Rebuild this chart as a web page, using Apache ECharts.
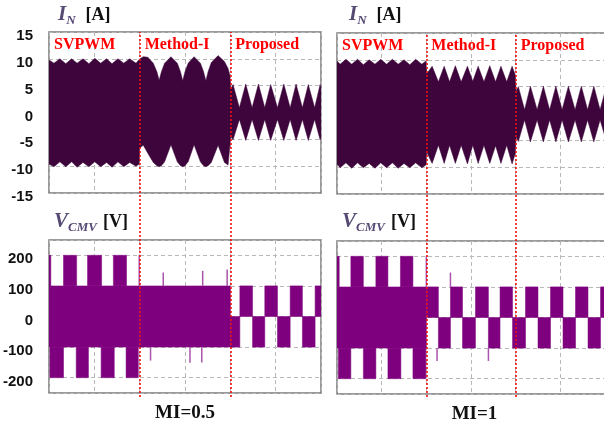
<!DOCTYPE html>
<html>
<head>
<meta charset="utf-8">
<script src="https://cdn.jsdelivr.net/npm/echarts@6/dist/echarts.min.js"></script>
<style>
html, body { margin: 0; padding: 0; background: #fff; }
#main { width: 604px; height: 426px; }
</style>
</head>
<body>
<div id="main"></div>
<script>
// time axis in grid divisions (0..6), regions split at 2 and 4
var regions = ['SVPWM', 'Method-I', 'Proposed'];
var edges = [0, 2, 4, 6];

// I_N envelope, MI=0.5 (SVPWM | Method-I | Proposed)
var iaT = [0.00, 0.11, 0.24, 0.37, 0.50, 0.62, 0.75, 0.88, 1.01, 1.14, 1.27, 1.39, 1.52, 1.65, 1.78, 1.92, 1.99,
           2.00, 2.08, 2.18, 2.30, 2.38, 2.43, 2.48, 2.55, 2.69, 2.83, 2.90, 2.95, 3.00, 3.07, 3.20, 3.34, 3.41, 3.46, 3.51, 3.58, 3.73, 3.87, 3.95, 3.99,
           4.01, 4.06, 4.20, 4.34, 4.48, 4.62, 4.76, 4.89, 5.04, 5.18, 5.32, 5.45, 5.59, 5.72, 5.86, 5.98, 6.00];
var iaHi = [9.8, 9.2, 10.0, 9.1, 10.0, 9.2, 10.0, 9.1, 10.1, 9.2, 10.0, 9.1, 10.0, 9.2, 10.0, 9.2, 9.9,
            10.0, 10.4, 10.3, 9.2, 7.6, 6.0, 7.6, 9.2, 10.4, 9.2, 7.6, 5.9, 7.6, 9.2, 10.4, 9.2, 7.6, 5.9, 7.6, 9.3, 10.6, 9.5, 8.2, 7.0,
            4.4, 5.2, 0.9, 5.3, 0.9, 5.3, 0.9, 5.2, 0.9, 5.3, 0.9, 5.3, 0.9, 5.2, 0.9, 5.2, 4.6];
var iaLo = [-9.6, -10.1, -9.2, -10.1, -9.2, -10.2, -9.3, -10.1, -9.2, -10.1, -9.3, -10.2, -9.2, -10.1, -9.3, -10.0, -9.6,
            -6.6, -6.1, -7.6, -9.3, -9.9, -10.1, -9.9, -9.2, -6.0, -9.2, -9.9, -10.1, -9.9, -9.2, -6.0, -9.2, -9.9, -10.1, -9.9, -9.3, -6.1, -9.3, -9.8, -9.6,
            -4.5, -5.1, -1.3, -5.2, -1.3, -5.2, -1.3, -5.2, -1.3, -5.2, -1.3, -5.2, -1.3, -5.2, -1.3, -5.1, -4.7];

// I_N envelope, MI=1
var ibT = [0.00, 0.07, 0.20, 0.33, 0.46, 0.59, 0.72, 0.85, 0.98, 1.11, 1.24, 1.37, 1.50, 1.63, 1.76, 1.90, 1.99,
           2.01, 2.13, 2.27, 2.40, 2.52, 2.65, 2.78, 2.92, 3.04, 3.16, 3.29, 3.42, 3.55, 3.67, 3.80, 3.92, 3.99,
           4.01, 4.06, 4.20, 4.33, 4.48, 4.62, 4.76, 4.90, 5.04, 5.18, 5.33, 5.47, 5.61, 5.75, 5.89, 6.00];
var ibHi = [9.8, 9.2, 10.1, 9.2, 10.1, 9.1, 10.0, 9.2, 10.1, 9.2, 10.1, 9.2, 10.0, 9.1, 10.1, 9.2, 9.8,
            7.4, 8.8, 5.9, 8.8, 5.9, 8.9, 5.9, 8.8, 6.0, 8.8, 5.9, 8.9, 5.9, 8.8, 5.9, 8.8, 7.2,
            4.2, 5.0, 0.7, 5.1, 0.7, 5.1, 0.7, 5.1, 0.7, 5.1, 0.7, 5.1, 0.7, 5.1, 0.7, 4.1];
var ibLo = [-9.4, -10.1, -9.2, -10.2, -9.2, -10.1, -9.3, -10.2, -9.2, -10.1, -9.2, -10.2, -9.3, -10.1, -9.2, -10.1, -9.6,
            -7.2, -9.3, -5.9, -9.3, -5.9, -9.3, -5.9, -9.4, -5.9, -9.3, -5.9, -9.3, -6.0, -9.3, -5.9, -9.4, -7.5,
            -4.4, -5.2, -1.2, -5.3, -1.2, -5.3, -1.2, -5.3, -1.2, -5.3, -1.2, -5.3, -1.2, -5.3, -1.2, -4.3];

// V_CMV blocks [t0, t1, v0, v1], MI=0.5
var vaBlocks = [
  [0, 2.0, -100, 100],
  [0, 0.04, 100, 200], [0.32, 0.61, 100, 200], [0.85, 1.16, 100, 200], [1.42, 1.71, 100, 200],
  [0.02, 0.32, -200, -100], [0.60, 0.87, -200, -100], [1.15, 1.44, -200, -100], [1.70, 1.97, -200, -100],
  [2.0, 4.0, -100, 100],
  [4.0, 4.21, -100, 0], [4.21, 4.49, 0, 100], [4.49, 4.76, -100, 0], [4.76, 5.04, 0, 100],
  [5.04, 5.32, -100, 0], [5.32, 5.59, 0, 100], [5.59, 5.87, -100, 0], [5.87, 6.0, 0, 100]
];
// thin spikes [t, v0, v1]
var vaSpikes = [[1.99, 100, 200], [2.52, 100, 144], [3.39, 100, 149], [3.93, 100, 154],
                [2.24, -100, -144], [3.11, -100, -151], [3.37, -100, -150]];

// V_CMV blocks, MI=1
var vbBlocks = [
  [0, 2.0, -100, 100],
  [0, 0.05, 100, 200], [0.31, 0.59, 100, 200], [0.87, 1.14, 100, 200], [1.42, 1.70, 100, 200],
  [0.03, 0.31, -200, -100], [0.59, 0.87, -200, -100], [1.14, 1.43, -200, -100], [1.70, 1.99, -200, -100],
  [2.0, 2.27, 0, 100], [2.27, 2.54, -100, 0], [2.54, 2.81, 0, 100], [2.81, 3.10, -100, 0],
  [3.10, 3.39, 0, 100], [3.39, 3.65, -100, 0], [3.65, 3.93, 0, 100], [3.93, 4.22, -100, 0],
  [4.22, 4.50, 0, 100], [4.50, 4.78, -100, 0], [4.78, 5.06, 0, 100], [5.06, 5.34, -100, 0],
  [5.34, 5.62, 0, 100], [5.62, 5.90, -100, 0], [5.90, 6.0, 0, 100]
];
var vbSpikes = [[2.0, 100, 200], [2.54, 100, 147], [2.24, -100, -142], [3.39, -100, -142]];

var darkFill = '#3d053b';
var cmvFill = '#7f007f';
var spikeCol = '#a955ab';
var serif = 'Liberation Serif';

function pairs(t, v) {
  return t.map(function (x, i) { return [x, v[i]]; });
}

function blockItem(params, api) {
  var a = api.coord([api.value(0), api.value(3)]);
  var b = api.coord([api.value(1), api.value(2)]);
  return {
    type: 'rect',
    shape: { x: a[0], y: a[1], width: b[0] - a[0], height: b[1] - a[1] },
    style: { fill: cmvFill, stroke: cmvFill, lineWidth: 0.5 }
  };
}

function spikeItem(params, api) {
  var a = api.coord([api.value(0), api.value(1)]);
  var b = api.coord([api.value(0), api.value(2)]);
  return {
    type: 'line',
    shape: { x1: a[0], y1: a[1], x2: b[0], y2: b[1] },
    style: { stroke: spikeCol, lineWidth: 1.5 }
  };
}

var dash = { color: '#b8b8b8', type: [4, 3], width: 1 };

var boxes = [
  { left: 49, top: 32, width: 272, height: 161 },
  { left: 337, top: 33, width: 268, height: 161 },
  { left: 49, top: 240, width: 272, height: 153 },
  { left: 337, top: 241, width: 268, height: 153 },
  { left: 49, top: 32, width: 272, height: 365 },
  { left: 337, top: 33, width: 268, height: 364 }
];

var grids = boxes.map(function (b, i) {
  return Object.assign({
    show: i < 4,
    borderColor: '#7a7a7a',
    borderWidth: 1.5,
    outerBoundsMode: 'none',
    containLabel: false
  }, b);
});

var xAxes = boxes.map(function (b, i) {
  var ax = {
    gridIndex: i, type: 'value', min: 0, max: 6, interval: 1,
    axisLine: { show: false }, axisTick: { show: false }, axisLabel: { show: false },
    splitLine: { show: i < 4, lineStyle: dash }
  };
  if (i === 2 || i === 3) {
    ax.name = i === 2 ? 'MI=0.5' : 'MI=1';
    ax.nameLocation = 'middle';
    ax.nameGap = 11;
    ax.nameTextStyle = { fontFamily: serif, fontWeight: 'bold', fontSize: 19, color: '#111',
                         padding: i === 3 ? [0, 0, 0, 7] : 0 };
  }
  return ax;
});

// labels sit a few pixels below their grid lines in the reference
var labelStyle = { fontFamily: 'Liberation Sans', fontWeight: 'bold', fontSize: 15, color: '#111',
                   margin: 16, verticalAlign: 'top', lineHeight: 8 };

var yAxes = [
  { gridIndex: 0, type: 'value', min: -15, max: 15, interval: 5,
    axisLabel: labelStyle },
  { gridIndex: 1, type: 'value', min: -15, max: 15, interval: 5,
    axisLabel: { show: false } },
  { gridIndex: 2, type: 'value', min: -250, max: 250, splitNumber: 5,
    axisLabel: Object.assign({ showMinLabel: false, showMaxLabel: false }, labelStyle) },
  { gridIndex: 3, type: 'value', min: -250, max: 250, splitNumber: 5,
    axisLabel: { show: false } },
  { gridIndex: 4, type: 'value', min: 0, max: 1, show: false },
  { gridIndex: 5, type: 'value', min: 0, max: 1, show: false }
].map(function (ax) {
  if (ax.gridIndex < 4) {
    ax.axisLine = { show: false };
    ax.axisTick = { show: false };
    ax.splitLine = { show: true, lineStyle: dash };
  }
  return ax;
});

var regionMarks = {
  silent: true,
  itemStyle: { color: 'rgba(0,0,0,0)' },
  label: { show: true, position: 'insideTopLeft', distance: 5, color: '#ff0000',
           fontFamily: serif, fontWeight: 'bold', fontSize: 16 },
  data: regions.map(function (name, i) {
    return [{ name: name, xAxis: edges[i] }, { xAxis: edges[i + 1] }];
  })
};

function envelope(idx, t, v, origin, marks) {
  var s = {
    type: 'line', xAxisIndex: idx, yAxisIndex: idx,
    data: pairs(t, v), symbol: 'none', silent: true,
    lineStyle: { color: darkFill, width: 0.5 },
    areaStyle: { color: darkFill, opacity: 1, origin: origin }
  };
  if (marks) s.markArea = regionMarks;
  return s;
}

function divider(idx) {
  return {
    type: 'line', xAxisIndex: idx, yAxisIndex: idx, data: [], z: 10,
    markLine: {
      silent: true, symbol: ['none', 'none'], label: { show: false },
      lineStyle: { color: '#f01010', type: [2, 2], width: 1.6 },
      data: edges.slice(1, 3).map(function (e) { return { xAxis: e }; })
    }
  };
}

var subBase = { fontFamily: serif, fontStyle: 'italic', fontSize: 13, color: '#564a74', lineHeight: 14,
                verticalAlign: 'bottom' };
var rich = {
  v: { fontFamily: serif, fontStyle: 'italic', fontSize: 21, color: '#564a74', lineHeight: 24 },
  s: Object.assign({ padding: [0, 10, 0, 0] }, subBase),
  c: Object.assign({ padding: [0, 6, 0, 0] }, subBase),
  b: { fontFamily: serif, fontWeight: 'bold', fontSize: 18, color: '#111', lineHeight: 24 }
};

function head(left, top, text) {
  return { left: left, top: top, padding: 0, text: text, textStyle: { rich: rich } };
}

var chart = echarts.init(document.getElementById('main'));
chart.setOption({
  animation: false,
  backgroundColor: '#fff',
  title: [
    head(58, 3, '{v|I}{s|N}{b|[A]}'),
    head(349, 3, '{v|I}{s|N}{b|[A]}'),
    head(54, 210, '{v|V}{c|CMV}{b|[V]}'),
    head(342, 210, '{v|V}{c|CMV}{b|[V]}')
  ],
  grid: grids,
  xAxis: xAxes,
  yAxis: yAxes,
  series: [
    envelope(0, iaT, iaHi, -1, true),
    envelope(0, iaT, iaLo, 0.5, false),
    envelope(1, ibT, ibHi, -1, true),
    envelope(1, ibT, ibLo, 0.5, false),
    { type: 'custom', xAxisIndex: 2, yAxisIndex: 2, data: vaBlocks, renderItem: blockItem,
      encode: { x: [0, 1], y: [2, 3] }, clip: true, silent: true },
    { type: 'custom', xAxisIndex: 2, yAxisIndex: 2, data: vaSpikes, renderItem: spikeItem,
      encode: { x: 0, y: [1, 2] }, clip: true, silent: true },
    { type: 'custom', xAxisIndex: 3, yAxisIndex: 3, data: vbBlocks, renderItem: blockItem,
      encode: { x: [0, 1], y: [2, 3] }, clip: true, silent: true },
    { type: 'custom', xAxisIndex: 3, yAxisIndex: 3, data: vbSpikes, renderItem: spikeItem,
      encode: { x: 0, y: [1, 2] }, clip: true, silent: true },
    divider(4),
    divider(5)
  ]
});
</script>
</body>
</html>
